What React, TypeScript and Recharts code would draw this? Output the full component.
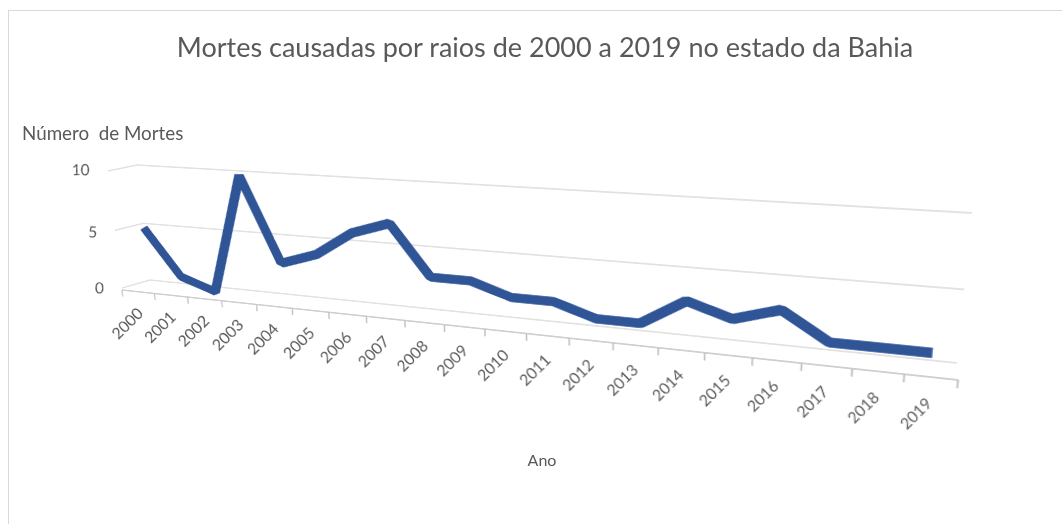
import React from 'react';
import { LineChart, Line, XAxis, YAxis, CartesianGrid } from 'recharts';

const years = [
  2000, 2001, 2002, 2003, 2004, 2005, 2006, 2007, 2008, 2009,
  2010, 2011, 2012, 2013, 2014, 2015, 2016, 2017, 2018, 2019,
];
const deaths = [5, 1, 0, 10, 3, 4, 6, 7, 3, 3, 2, 2, 1, 1, 3, 2, 3, 1, 1, 1];
const valueTicks = [0, 5, 10];

const data = years.map((year, i) => ({ year, deaths: deaths[i] }));
// tick marks sit between the categories, like Excel does
const boundaries = [...years.map((y) => y - 0.5), years[years.length - 1] + 0.5];
const yearDomain = [1999.5, 2019.5];
const valueDomain = [0, 10];

const FONT = 'Lato, "Open Sans", sans-serif';
const TEXT = '#595959';
const GRID = '#d9d9d9';

// every plane is drawn as a flat chart, then its plot box is projected
// onto where that plane sits in the 3D picture
const FW = 930;
const FH = 260;
const MARGIN = { top: 10, right: 10, bottom: 0, left: 0 };
const flatCorners = [
  [70, 10],
  [920, 10],
  [920, 170],
  [70, 170],
];
const sideWall = [
  [108, 171],
  [137, 165],
  [150, 280],
  [122, 288],
];
const backWall = [
  [137, 165],
  [972, 213],
  [957, 363],
  [150, 280],
];
const ribbonPlane = [
  [121, 168],
  [972, 222],
  [958, 370],
  [134, 283],
];
const frontPlane = [
  [108, 171],
  [973, 227],
  [958, 380],
  [122, 290],
];

function homography(src: number[][], dst: number[][]) {
  const A: number[][] = [];
  for (let i = 0; i < 4; i++) {
    const [x, y] = src[i];
    const [u, v] = dst[i];
    A.push([x, y, 1, 0, 0, 0, -x * u, -y * u, u]);
    A.push([0, 0, 0, x, y, 1, -x * v, -y * v, v]);
  }
  for (let c = 0; c < 8; c++) {
    let p = c;
    for (let r = c + 1; r < 8; r++) if (Math.abs(A[r][c]) > Math.abs(A[p][c])) p = r;
    [A[c], A[p]] = [A[p], A[c]];
    for (let r = 0; r < 8; r++) {
      if (r === c) continue;
      const f = A[r][c] / A[c][c];
      for (let k = c; k < 9; k++) A[r][k] -= f * A[c][k];
    }
  }
  return [...A.map((row, i) => row[8] / row[i]), 1];
}

function makePlane(corners: number[][]) {
  const H = homography(flatCorners, corners);
  const style: React.CSSProperties = {
    position: 'absolute',
    left: 0,
    top: 0,
    width: FW,
    height: FH,
    transformOrigin: '0 0',
    transform: `matrix3d(${H[0]},${H[3]},0,${H[6]},${H[1]},${H[4]},0,${H[7]},0,0,1,0,${H[2]},${H[5]},0,1)`,
  };
  // undo the local distortion so labels read upright on the page
  const unskew = (x: number, y: number) => {
    const w = H[6] * x + H[7] * y + 1;
    const u = (H[0] * x + H[1] * y + H[2]) / w;
    const v = (H[3] * x + H[4] * y + H[5]) / w;
    const a = (H[0] - u * H[6]) / w;
    const c = (H[1] - u * H[7]) / w;
    const b = (H[3] - v * H[6]) / w;
    const d = (H[4] - v * H[7]) / w;
    const det = a * d - b * c;
    return `translate(${x},${y}) matrix(${d / det},${-b / det},${-c / det},${a / det},0,0)`;
  };
  return { style, unskew };
}

const side = makePlane(sideWall);
const back = makePlane(backWall);
const ribbon = makePlane(ribbonPlane);
const front = makePlane(frontPlane);

const noTick = () => null;

const YearTick = (props: any) => {
  const { x, y, payload } = props;
  return (
    <text
      transform={`${front.unskew(x, y + 26)} rotate(-45)`}
      textAnchor="end"
      dy="0.35em"
      fontSize={16}
      fontFamily={FONT}
      fill={TEXT}
    >
      {payload.value}
    </text>
  );
};

const ValueTick = (props: any) => {
  const { x, y, payload } = props;
  return (
    <text
      transform={front.unskew(x - 24, y + (payload.value === 5 ? 3 : 0))}
      textAnchor="end"
      dy="0.35em"
      fontSize={15.5}
      fontFamily={FONT}
      fill={TEXT}
    >
      {payload.value}
    </text>
  );
};

// y axis shared by the planes; the domain is fixed so planes without a series still get their ticks
const valueAxis = (tick: any) => (
  <YAxis
    type="number"
    domain={valueDomain}
    allowDataOverflow
    ticks={valueTicks}
    interval={0}
    width={70}
    axisLine={false}
    tickLine={false}
    tickSize={0}
    tickMargin={0}
    tick={tick}
  />
);

const GridPlane = ({ style }: { style: React.CSSProperties }) => (
  <div style={style}>
    <LineChart width={FW} height={FH} data={data} margin={MARGIN}>
      <CartesianGrid xAxisId="x" vertical={false} stroke={GRID} strokeWidth={1.5} />
      <XAxis xAxisId="x" dataKey="year" type="number" domain={yearDomain} allowDataOverflow tick={noTick} axisLine={false} tickLine={false} height={90} />
      {valueAxis(noTick)}
    </LineChart>
  </div>
);

export default function App() {
  return (
    <div style={{ position: 'absolute', left: 0, top: 0, width: 1062, height: 524, overflow: 'hidden', background: '#fff' }}>
      <div
        style={{
          position: 'absolute',
          left: 8,
          top: 10,
          width: 1054,
          height: 514,
          boxSizing: 'border-box',
          borderLeft: '1px solid #d9d9d9',
          borderTop: '1px solid #d9d9d9',
        }}
      />

      <GridPlane style={side.style} />
      <GridPlane style={back.style} />

      {/* front edge of the floor with its tick marks */}
      <div style={front.style}>
        <LineChart width={FW} height={FH} data={data} margin={MARGIN}>
          <XAxis
            dataKey="year"
            type="number"
            domain={yearDomain}
            allowDataOverflow
            ticks={boundaries}
            interval={0}
            tick={noTick}
            tickSize={9}
            height={90}
            stroke="#bfbfbf"
            strokeWidth={1.5}
          />
          {valueAxis(noTick)}
        </LineChart>
      </div>

      {/* category and value labels */}
      <div style={front.style}>
        <LineChart width={FW} height={FH} data={data} margin={MARGIN}>
          <XAxis
            dataKey="year"
            type="number"
            domain={yearDomain}
            allowDataOverflow
            ticks={years}
            interval={0}
            axisLine={false}
            tickLine={false}
            tickSize={0}
            tickMargin={0}
            height={90}
            tick={<YearTick />}
          />
          {valueAxis(<ValueTick />)}
        </LineChart>
      </div>

      <div style={ribbon.style}>
        <LineChart width={FW} height={FH} data={data} margin={MARGIN}>
          <XAxis xAxisId="x" dataKey="year" type="number" domain={yearDomain} tick={noTick} axisLine={false} tickLine={false} height={90} />
          <YAxis type="number" domain={valueDomain} width={70} tick={noTick} axisLine={false} tickLine={false} />
          <Line
            xAxisId="x"
            type="linear"
            dataKey="deaths"
            stroke="#2f5597"
            strokeWidth={11.5}
            strokeLinejoin="bevel"
            dot={false}
            activeDot={false}
            isAnimationActive={false}
          />
        </LineChart>
      </div>

      <svg width={1062} height={524} style={{ position: 'absolute', left: 0, top: 0, pointerEvents: 'none' }}>
        <text x={545} y={57} textAnchor="middle" fontSize={27} fontFamily={FONT} fill={TEXT}>
          Mortes causadas por raios de 2000 a 2019 no estado da Bahia
        </text>
        <text x={22} y={140} fontSize={18.8} fontFamily={FONT} fill={TEXT} style={{ whiteSpace: 'pre' }}>
          {'Número  de Mortes'}
        </text>
        <text x={542} y={466} textAnchor="middle" fontSize={16} fontFamily={FONT} fill={TEXT}>
          Ano
        </text>
      </svg>
    </div>
  );
}
